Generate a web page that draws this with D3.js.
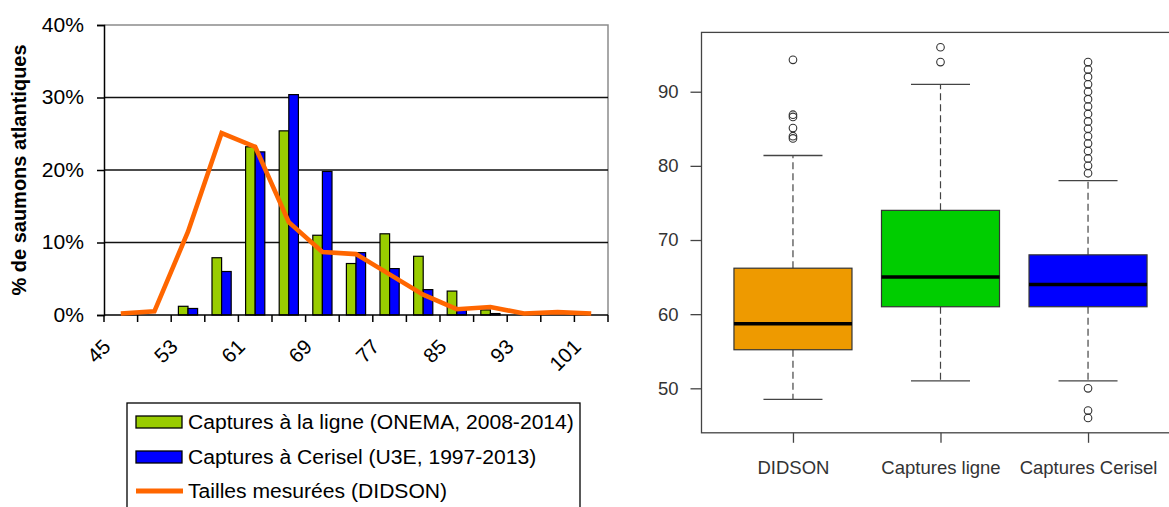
<!DOCTYPE html>
<html>
<head>
<meta charset="utf-8">
<script src="https://cdn.jsdelivr.net/npm/d3@7"></script>
<style>
  html, body { margin: 0; padding: 0; background: #fff; }
  svg { display: block; font-family: "Liberation Sans", Arial, sans-serif; }
</style>
</head>
<body>
<svg id="chart" width="1169" height="507"></svg>
<script>
// ---------- Data: left chart (histogram of sizes, %) ----------
const categories = [45, 49, 53, 57, 61, 65, 69, 73, 77, 81, 85, 89, 93, 97, 101];
const xTickLabels = ["45", "53", "61", "69", "77", "85", "93", "101"];
const yTickPercents = [0, 10, 20, 30, 40];
const onemaValues   = [0, 0, 1.2, 7.9, 23.2, 25.4, 11.0, 7.1, 11.2, 8.1, 3.3, 0.7, 0, 0, 0];
const ceriselValues = [0, 0, 0.9, 6.0, 22.5, 30.4, 19.8, 8.6, 6.4, 3.5, 0.8, 0.2, 0, 0, 0];
const didsonValues  = [0.2, 0.5, 11.5, 25.1, 23.2, 12.8, 8.7, 8.4, 5.6, 2.8, 0.8, 1.1, 0.2, 0.4, 0.2];
const legendLabels = [
  "Captures à la ligne (ONEMA, 2008-2014)",
  "Captures à Cerisel (U3E, 1997-2013)",
  "Tailles mesurées (DIDSON)"
];
const yTitle = "% de saumons atlantiques";

// ---------- Data: right chart (boxplots) ----------
const boxGroups   = ["DIDSON", "Captures ligne", "Captures Cerisel"];
const boxQ1       = [55.2, 61, 61];
const boxMedian   = [58.7, 65, 64];
const boxQ3       = [66.2, 74, 68];
const whiskerLow  = [48.5, 51, 51];
const whiskerHigh = [81.4, 91, 78];
const didsonOutliers  = [94.3, 86.9, 86.6, 85.1, 84.0, 83.7];
const ligneOutliers   = [96, 94];
const ceriselOutliers = [79, 80, 81, 82, 83, 84, 85, 86, 87, 88, 89, 90, 91, 92, 93, 94, 50, 47, 46];
const boxYTicks = [50, 60, 70, 80, 90];

// ---------- Styles ----------
const GREEN = "#99CC00", BLUE = "#0000FF", ORANGE = "#FF6600";
const boxFill = ["#EE9A00", "#00CD00", "#0000FF"];

const svg = d3.select("#chart");

// horizontal stretch of text (source picture is slightly wider than tall)
function stretch(sel, k) {
  sel.each(function () {
    const len = this.getComputedTextLength();
    d3.select(this).attr("textLength", len * k).attr("lengthAdjust", "spacingAndGlyphs");
  });
}

// ================= LEFT CHART =================
const L = { left: 104, right: 608, top: 25, bottom: 315 };
const x = d3.scaleBand().domain(categories).range([L.left, L.right]).padding(0);
const y = d3.scaleLinear().domain([0, 40]).range([L.bottom, L.top]);
const bw = x.bandwidth();
const barW = bw / 3.5;
const groupOff = (bw - 2 * barW) / 2;

const left = svg.append("g");

// plot border (top / right, gray)
left.append("path")
  .attr("d", `M${L.left},${y(40)}H${L.right}V${L.bottom}`)
  .attr("fill", "none").attr("stroke", "#8c8c8c").attr("stroke-width", 1.5);

// gridlines
left.selectAll("line.grid").data(yTickPercents.filter(d => d > 0 && d < 40)).join("line")
  .attr("x1", L.left).attr("x2", L.right)
  .attr("y1", d => y(d)).attr("y2", d => y(d))
  .attr("stroke", "#111").attr("stroke-width", 1.3);

// y axis
const yAxis = d3.axisLeft(y).tickValues(yTickPercents).tickFormat(d => d + "%")
  .tickSize(7).tickPadding(13);
const gy = left.append("g").attr("transform", `translate(${L.left},0)`).call(yAxis);
gy.select(".domain").attr("stroke", "#000").attr("stroke-width", 1.5);
gy.selectAll(".tick line").attr("stroke", "#000").attr("stroke-width", 1.5);
gy.selectAll(".tick text").attr("font-size", 19.5).attr("fill", "#000")
  .attr("font-family", "Liberation Sans, Arial, sans-serif");
stretch(gy.selectAll(".tick text"), 1.08);

// bars
const barData = categories.map((c, i) => ({ c, g: onemaValues[i], b: ceriselValues[i] }));
left.selectAll("rect.g").data(barData.filter(d => d.g > 0)).join("rect")
  .attr("x", d => x(d.c) + groupOff).attr("width", barW)
  .attr("y", d => y(d.g)).attr("height", d => y(0) - y(d.g))
  .attr("fill", GREEN).attr("stroke", "#000").attr("stroke-width", 1.2);
left.selectAll("rect.b").data(barData.filter(d => d.b > 0)).join("rect")
  .attr("x", d => x(d.c) + groupOff + barW).attr("width", barW)
  .attr("y", d => y(d.b)).attr("height", d => y(0) - y(d.b))
  .attr("fill", BLUE).attr("stroke", "#000").attr("stroke-width", 1.2);

// x axis line and ticks
left.append("line").attr("x1", L.left).attr("x2", L.right)
  .attr("y1", y(0)).attr("y2", y(0)).attr("stroke", "#000").attr("stroke-width", 1.5);
const tickXs = categories.map(c => x(c)).concat([x(categories[categories.length - 1]) + bw]);
left.selectAll("line.xt").data(tickXs).join("line")
  .attr("x1", d => d).attr("x2", d => d)
  .attr("y1", y(0)).attr("y2", y(0) + 7)
  .attr("stroke", "#000").attr("stroke-width", 1.5);

// x labels (every other category), rotated
left.selectAll("text.xl").data(xTickLabels).join("text")
  .attr("transform", d => `translate(${x(+d) + bw / 2 - 9},${y(0) + 33}) rotate(-45)`)
  .attr("text-anchor", "end")
  .attr("font-size", 20.5).attr("fill", "#000")
  .text(d => d);

// line
const line = d3.line().x((d, i) => x(categories[i]) + bw / 2).y(d => y(d));
left.append("path").datum(didsonValues)
  .attr("d", line).attr("fill", "none")
  .attr("stroke", ORANGE).attr("stroke-width", 4.6).attr("stroke-linejoin", "miter");

// y title
left.append("text")
  .attr("transform", `translate(26,170) rotate(-90)`)
  .attr("text-anchor", "middle").attr("font-size", 20).attr("font-weight", "bold")
  .attr("fill", "#000").text(yTitle);

// legend
const lg = left.append("g");
lg.append("rect").attr("x", 127).attr("y", 403).attr("width", 453).attr("height", 130)
  .attr("fill", "#fff").attr("stroke", "#000").attr("stroke-width", 1.3);
const rowY = [422, 457, 491];
lg.append("rect").attr("x", 136).attr("y", rowY[0] - 6).attr("width", 46).attr("height", 12)
  .attr("fill", GREEN).attr("stroke", "#000").attr("stroke-width", 1.3);
lg.append("rect").attr("x", 136).attr("y", rowY[1] - 6).attr("width", 46).attr("height", 12)
  .attr("fill", BLUE).attr("stroke", "#000").attr("stroke-width", 1.3);
lg.append("line").attr("x1", 136).attr("x2", 183).attr("y1", rowY[2]).attr("y2", rowY[2])
  .attr("stroke", ORANGE).attr("stroke-width", 5);
const lt = lg.selectAll("text").data(legendLabels).join("text")
  .attr("x", 188).attr("y", (d, i) => rowY[i]).attr("dy", "0.36em")
  .attr("font-size", 20).attr("fill", "#000").text(d => d);
stretch(lt, 1.055);

// ================= RIGHT CHART =================
const bx = d3.scaleLinear().domain([0.38, 3.62]).range([701.5, 1179.5]);
const by = d3.scaleLinear().domain([44, 98]).range([432.8, 32.4]);
const right = svg.append("g");
const FRAME = "#444";

right.append("rect").attr("x", bx(0.38)).attr("y", by(98))
  .attr("width", bx(3.62) - bx(0.38)).attr("height", by(44) - by(98))
  .attr("fill", "none").attr("stroke", FRAME).attr("stroke-width", 1.3);

const byAxis = d3.axisLeft(by).tickValues(boxYTicks).tickSize(11).tickPadding(12);
const gby = right.append("g").attr("transform", `translate(${bx(0.38)},0)`).call(byAxis);
gby.select(".domain").remove();
gby.selectAll(".tick line").attr("stroke", FRAME).attr("stroke-width", 1.3);
gby.selectAll(".tick text").attr("font-size", 18.5).attr("fill", "#333")
  .attr("font-family", "Liberation Sans, Arial, sans-serif");

const bxAxis = d3.axisBottom(bx).tickValues([1, 2, 3]).tickFormat((d) => boxGroups[d - 1])
  .tickSize(10).tickPadding(18);
const gbx = right.append("g").attr("transform", `translate(0,${by(44)})`).call(bxAxis);
gbx.select(".domain").remove();
gbx.selectAll(".tick line").attr("stroke", FRAME).attr("stroke-width", 1.3);
gbx.selectAll(".tick text").attr("font-size", 18.5).attr("fill", "#333")
  .attr("font-family", "Liberation Sans, Arial, sans-serif");

const boxW = 0.8, stapleW = 0.4;
const outlierSets = [didsonOutliers, ligneOutliers, ceriselOutliers];
const boxes = boxGroups.map((g, i) => ({
  i, pos: i + 1, q1: boxQ1[i], med: boxMedian[i], q3: boxQ3[i],
  lo: whiskerLow[i], hi: whiskerHigh[i], out: outlierSets[i]
}));
const bg = right.selectAll("g.box").data(boxes).join("g");
// whiskers dashed
bg.append("line").attr("x1", d => bx(d.pos)).attr("x2", d => bx(d.pos))
  .attr("y1", d => by(d.q3)).attr("y2", d => by(d.hi))
  .attr("stroke", FRAME).attr("stroke-width", 1.2).attr("stroke-dasharray", "7,4");
bg.append("line").attr("x1", d => bx(d.pos)).attr("x2", d => bx(d.pos))
  .attr("y1", d => by(d.q1)).attr("y2", d => by(d.lo))
  .attr("stroke", FRAME).attr("stroke-width", 1.2).attr("stroke-dasharray", "7,4");
// staples
["hi", "lo"].forEach(k => {
  bg.append("line")
    .attr("x1", d => bx(d.pos - stapleW / 2)).attr("x2", d => bx(d.pos + stapleW / 2))
    .attr("y1", d => by(d[k])).attr("y2", d => by(d[k]))
    .attr("stroke", FRAME).attr("stroke-width", 1.3);
});
// boxes
bg.append("rect")
  .attr("x", d => bx(d.pos - boxW / 2)).attr("width", d => bx(d.pos + boxW / 2) - bx(d.pos - boxW / 2))
  .attr("y", d => by(d.q3)).attr("height", d => by(d.q1) - by(d.q3))
  .attr("fill", d => boxFill[d.i]).attr("stroke", "#333").attr("stroke-width", 1.2);
// medians
bg.append("line")
  .attr("x1", d => bx(d.pos - boxW / 2)).attr("x2", d => bx(d.pos + boxW / 2))
  .attr("y1", d => by(d.med)).attr("y2", d => by(d.med))
  .attr("stroke", "#000").attr("stroke-width", 3.5);
// outliers
bg.each(function (d) {
  d3.select(this).selectAll("circle").data(d.out).join("circle")
    .attr("cx", bx(d.pos)).attr("cy", v => by(v)).attr("r", 3.8)
    .attr("fill", "none").attr("stroke", "#333").attr("stroke-width", 1.1);
});
</script>
</body>
</html>
